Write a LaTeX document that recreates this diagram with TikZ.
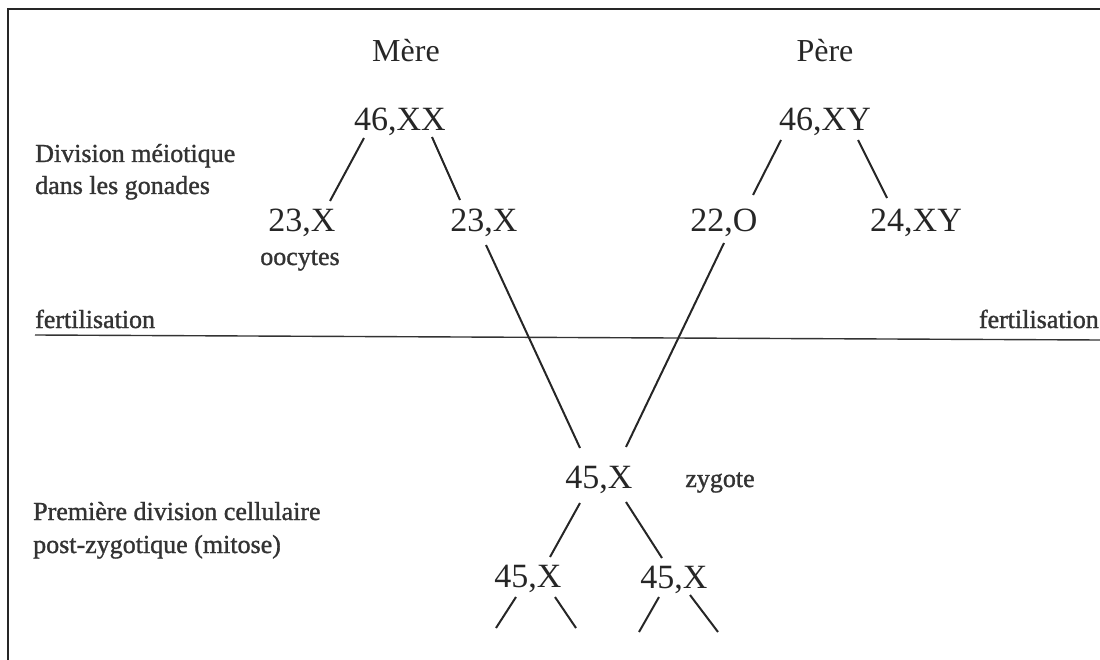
\documentclass[tikz,border=0pt]{standalone}
\usepackage{fontspec}
\setmainfont{Liberation Serif}
\newfontfamily\labfont[FakeBold=1.2]{Liberation Serif}

\begin{document}
\begin{tikzpicture}[x=1pt,y=-1pt,
  geno/.style={inner sep=0pt, anchor=base, font=\fontsize{34}{40}\selectfont, text=black!85},
  parent/.style={inner sep=0pt, anchor=base, font=\fontsize{32}{38}\selectfont, text=black!85},
  lab/.style={inner sep=0pt, anchor=base west, font=\labfont\fontsize{26}{30}\selectfont, text=black!80},
  leg/.style={line width=2pt, black!85}]
  \useasboundingbox (0,0) rectangle (1100,660);
  % frame (only top and left edges show)
  \draw[line width=1.8pt, black!85] (8,660) -- (8,9) -- (1100,9);

  \node[parent] (mere) at (406,62) {Mère};
  \node[parent] (pere) at (825,62) {Père};

  \node[geno] (mxx) at (400,131) {46,XX};
  \node[geno] (pxy) at (825,131) {46,XY};
  \node[geno] (ova) at (302,232) {23,X};
  \node[geno] (ovb) at (484,232) {23,X};
  \node[geno] (spo) at (724,232) {22,O};
  \node[geno] (spxy) at (916,232) {24,XY};
  \node[geno] (zyg) at (599,488) {45,X};
  \node[geno] (cla) at (528,587) {45,X};
  \node[geno] (clb) at (674,588) {45,X};

  \node[lab] (meio) at (35,162) {Division méiotique};
  \node[lab] (gonad) at (35,194) {dans les gonades};
  \node[lab, anchor=base] (oocy) at (300,265) {oocytes};
  \node[lab] (fertl) at (35,328) {fertilisation};
  \node[lab, anchor=base east] (fertr) at (1099,328) {fertilisation};
  \node[lab, anchor=base] (zygl) at (720,487) {zygote};
  \node[lab] (prem) at (33,520) {Première division cellulaire};
  \node[lab] (post) at (33,553) {post-zygotique (mitose)};

  \draw[line width=1.4pt, black!80] ([shift={(0,7)}]fertl.base west) -- ([shift={(1,12)}]fertr.base east);

  % meiosis
  \draw[leg] ([shift={(-36,7)}]mxx.base) -- ([shift={(28,-31)}]ova.base);
  \draw[leg] ([shift={(32,6)}]mxx.base) -- ([shift={(-24,-32)}]ovb.base);
  \draw[leg] ([shift={(-44,9)}]pxy.base) -- ([shift={(29,-37)}]spo.base);
  \draw[leg] ([shift={(33,9)}]pxy.base) -- ([shift={(-29,-34)}]spxy.base);

  % fertilisation
  \draw[leg] ([shift={(2,13)}]ovb.base) -- ([shift={(-19,-40)}]zyg.base);
  \draw[leg] ([shift={(0,11)}]spo.base) -- ([shift={(27,-41)}]zyg.base);

  % mitosis
  \draw[leg] ([shift={(-19,15)}]zyg.base) -- ([shift={(22,-30)}]cla.base);
  \draw[leg] ([shift={(27,14)}]zyg.base) -- ([shift={(-12,-30)}]clb.base);
  \draw[leg] ([shift={(-12,10)}]cla.base) -- ++(-20,31);
  \draw[leg] ([shift={(27,10)}]cla.base) -- ++(21,31);
  \draw[leg] ([shift={(-15,9)}]clb.base) -- ++(-20,35);
  \draw[leg] ([shift={(16,7)}]clb.base) -- ++(28,37);

\end{tikzpicture}
\end{document}
